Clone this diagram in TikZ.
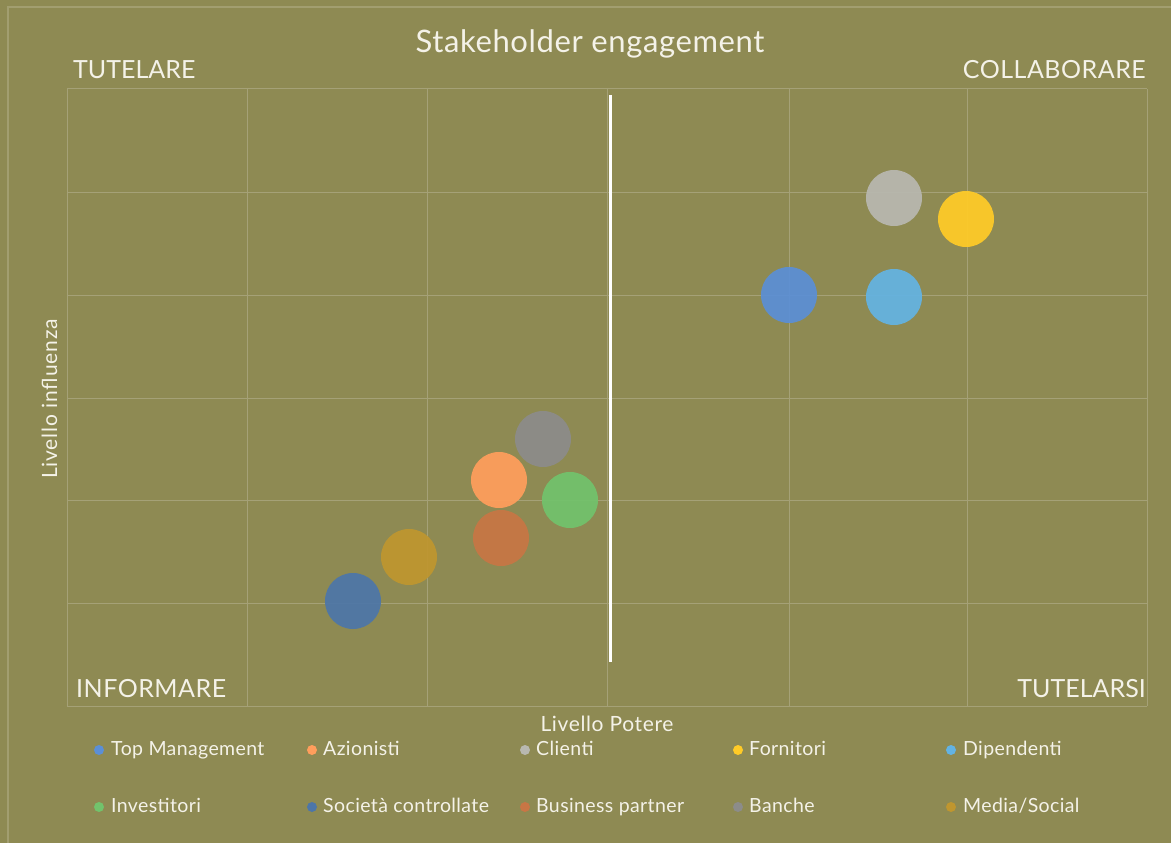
\documentclass[tikz,border=0pt]{standalone}
\usepackage{fontspec}
\setmainfont{Lato}
\definecolor{bg}{HTML}{8E8A53}
\definecolor{grid}{HTML}{A5A177}
\definecolor{frame}{HTML}{A29E70}
\definecolor{txt}{HTML}{F4F2E8}
\definecolor{cTop}{HTML}{5B8FD6}
\definecolor{cAzi}{HTML}{FF9E5C}
\definecolor{cCli}{HTML}{B8B8B0}
\definecolor{cFor}{HTML}{FFCB27}
\definecolor{cDip}{HTML}{63B3E3}
\definecolor{cInv}{HTML}{72C36C}
\definecolor{cSoc}{HTML}{4D76A8}
\definecolor{cBus}{HTML}{C87645}
\definecolor{cBan}{HTML}{8C8C8A}
\definecolor{cMed}{HTML}{BF962F}
\tikzset{
  bubble/.style={circle, minimum size=56pt, inner sep=0pt, fill=#1, fill opacity=0.93, draw=none},
  legdot/.style={circle, minimum size=10pt, inner sep=0pt, fill=#1, draw=none},
  legtxt/.style={anchor=base west, inner sep=0pt, text=txt, font=\fontsize{19.5}{22}\selectfont\addfontfeature{LetterSpace=2}},
  quad/.style={inner sep=0pt, text=txt, font=\fontsize{25}{28}\selectfont},
  gridline/.style={draw=grid, line width=1pt},
}
\begin{document}
\begin{tikzpicture}[x=1pt,y=-1pt]
\fill[bg] (0,0) rectangle (1171,843);
\useasboundingbox (0,0) rectangle (1171,843);
% outer frame (left and top)
\draw[frame, line width=1.2pt] (8,843) -- (8,7) -- (1171,7);
% grid
\foreach \x in {67,247,427,607,789,967,1147} \draw[gridline] (\x,89) -- (\x,706);
\foreach \y in {89,192,295,398,500,603,706} \draw[gridline] (67,\y) -- (1147,\y);
% central divider
\coordinate (dtop) at (610,95);
\coordinate (dbot) at (610,662);
\draw[white, line width=3pt] (dtop) -- (dbot);
% title
\node[anchor=base, inner sep=0pt, text=txt, font=\fontsize{31}{34}\selectfont\addfontfeature{LetterSpace=2}] (title) at (590,53) {Stakeholder engagement};
% quadrant labels
\node[quad, anchor=base west] (tl) at (73,79) {TUTELARE};
\node[quad, anchor=base east] (tr) at (1146,79) {\addfontfeature{LetterSpace=2}COLLABORARE};
\node[quad, anchor=base west] (bl) at (76,697) {\addfontfeature{LetterSpace=2}INFORMARE};
\node[quad, anchor=base east] (br) at (1146,697) {TUTELARSI};
% axis labels
\node[anchor=base, inner sep=0pt, text=txt, font=\fontsize{21}{24}\selectfont\addfontfeature{LetterSpace=3}] (xlab) at (607,731) {Livello Potere};
\node[anchor=base, rotate=90, inner sep=0pt, text=txt, font=\fontsize{21}{24}\selectfont\addfontfeature{LetterSpace=4}] (ylab) at (57,399) {Livello influenza};
% bubbles
\node[bubble=cCli] (cli) at (894,198) {};
\node[bubble=cFor] (for) at (966,219) {};
\node[bubble=cTop] (top) at (789,295) {};
\node[bubble=cDip] (dip) at (894,297) {};
\node[bubble=cBan] (ban) at (543,439) {};
\node[bubble=cAzi] (azi) at (499,480) {};
\node[bubble=cInv] (inv) at (570,500) {};
\node[bubble=cBus] (bus) at (501,538) {};
\node[bubble=cMed] (med) at (409,557) {};
\node[bubble=cSoc] (soc) at (353,601) {};
% legend row 1
\node[legdot=cTop] (d1) at (99,750) {};
\node[legtxt] (l1) at (111,755) {Top Management};
\node[legdot=cAzi] (d2) at (312,750) {};
\node[legtxt] (l2) at (323,755) {Azionisti};
\node[legdot=cCli] (d3) at (525,750) {};
\node[legtxt] (l3) at (536,755) {Clienti};
\node[legdot=cFor] (d4) at (738,750) {};
\node[legtxt] (l4) at (749,755) {Fornitori};
\node[legdot=cDip] (d5) at (951,750) {};
\node[legtxt] (l5) at (963,755) {Dipendenti};
% legend row 2
\node[legdot=cInv] (d6) at (99,807) {};
\node[legtxt] (l6) at (111,812) {Investitori};
\node[legdot=cSoc] (d7) at (312,807) {};
\node[legtxt] (l7) at (323,812) {Società controllate};
\node[legdot=cBus] (d8) at (525,807) {};
\node[legtxt] (l8) at (536,812) {Business partner};
\node[legdot=cBan] (d9) at (738,807) {};
\node[legtxt] (l9) at (749,812) {Banche};
\node[legdot=cMed] (d10) at (951,807) {};
\node[legtxt] (l10) at (963,812) {Media/Social};
\end{tikzpicture}
\end{document}
